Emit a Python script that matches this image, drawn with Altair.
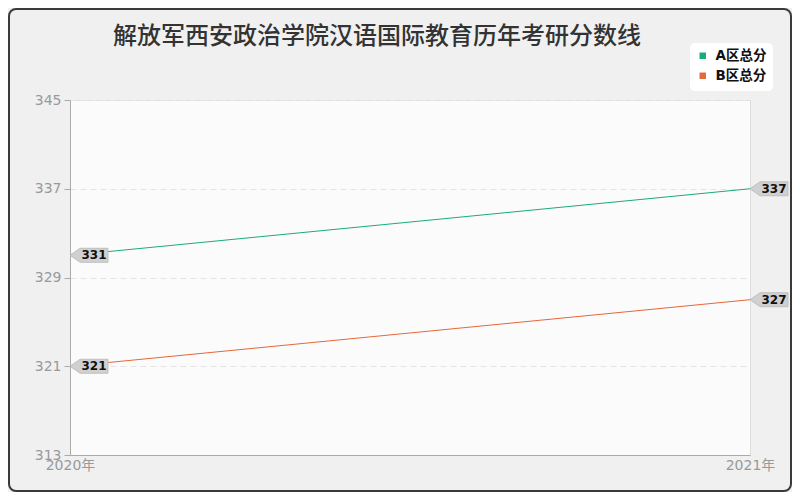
import altair as alt
import pandas as pd

# ---- data ----
title_text = "解放军西安政治学院汉语国际教育历年考研分数线"
years = ["2020年", "2021年"]
series_names = ["A区总分", "B区总分"]
a_scores = [331, 337]
b_scores = [321, 327]
y_ticks = [313, 321, 329, 337, 345]
colors = ["#1aab7d", "#e5683a"]

rows = []
for y, v in zip(years, a_scores):
    rows.append({"year": y, "series": series_names[0], "score": v})
for y, v in zip(years, b_scores):
    rows.append({"year": y, "series": series_names[1], "score": v})
df = pd.DataFrame(rows)

W, H = 680, 355
PL, PT, PR, PB = 62, 92, 42, 37
FONT = "DejaVu Sans, Noto Sans CJK SC"
CJK = "Noto Sans CJK SC"

x_enc = alt.X("year:O", scale=alt.Scale(type="point", padding=0, domain=years),
              axis=alt.Axis(title=None, labelAngle=0, labelColor="#999", labelFontSize=14,
                            labelFont=FONT, domainColor="#aaa", ticks=False, grid=False,
                            labelPadding=3))
y_enc = alt.Y("score:Q", scale=alt.Scale(domain=[313, 345], nice=False, zero=False),
              axis=alt.Axis(title=None, values=y_ticks, labelColor="#999", labelFontSize=14,
                            labelFont=FONT, domainColor="#aaa", tickColor="#aaa", tickSize=6,
                            labelPadding=3, gridColor="#e4e4e4", gridDash=[6, 4]))
color_enc = alt.Color("series:N", scale=alt.Scale(domain=series_names, range=colors),
                      legend=alt.Legend(title=None, orient="none", legendX=620, legendY=-57,
                                        fillColor="white", cornerRadius=5, padding=6,
                                        symbolType="square", symbolSize=6, symbolStrokeWidth=4,
                                        labelFontSize=13.5, labelFontWeight="bold",
                                        labelColor="#111", labelFont=FONT, rowPadding=1,
                                        labelOffset=6))

border = alt.Chart(pd.DataFrame({"k": [0]})).mark_rect(
    fill="transparent", stroke="#3a3a3a", strokeWidth=2, cornerRadius=7
).encode(x=alt.value(-PL + 1), x2=alt.value(W + PR - 1),
         y=alt.value(-PT + 1), y2=alt.value(H + PB - 1))

title = alt.Chart(pd.DataFrame({"t": [title_text]})).mark_text(
    fontSize=24, font=CJK, fontWeight=500, color="#333", align="center", baseline="middle"
).encode(text="t:N", x=alt.value(307), y=alt.value(-63))

lines = alt.Chart(df).mark_line(strokeWidth=1).encode(x=x_enc, y=y_enc, color=color_enc)

callout_path = "M0,0 L0.53,-0.37 L2,-0.37 L2,0.37 L0.53,0.37 Z"
boxes = alt.Chart(df).mark_point(
    shape=callout_path, filled=True, fill="#d0d0d0", stroke="#b8b8b8", strokeWidth=0.8,
    size=1444, opacity=1
).encode(x=x_enc, y=y_enc)

labels = alt.Chart(df).mark_text(
    fontSize=12, font=FONT, fontWeight="bold", color="#111", align="center", dx=24, baseline="middle"
).encode(x=x_enc, y=y_enc, text="score:Q")

chart = alt.layer(border, title, lines, boxes, labels).properties(
    width=W, height=H,
    autosize=alt.AutoSizeParams(type="none"),
    padding={"left": PL, "top": PT, "right": PR, "bottom": PB},
    background="#f0f0f0",
).configure_view(fill="#fbfbfb", stroke="#dddddd")

chart.save("out.html", embed_options={"renderer": "svg", "actions": False})
